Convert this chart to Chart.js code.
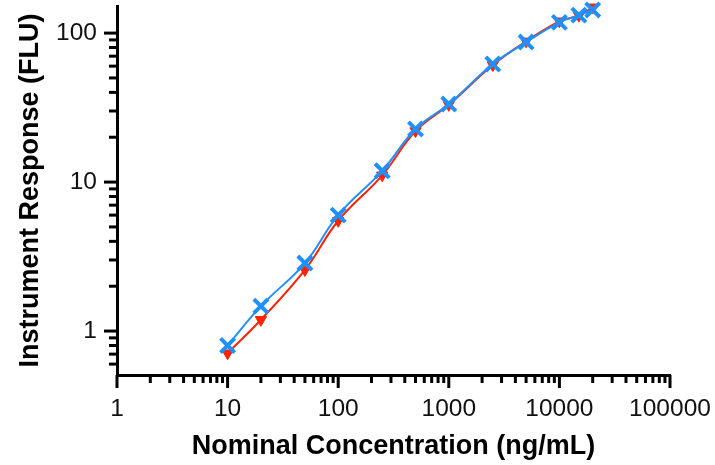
<!DOCTYPE html>
<html>
<head>
<meta charset="utf-8">
<script src="https://cdn.jsdelivr.net/npm/chart.js@4.4.1/dist/chart.umd.min.js"></script>
<style>
  html, body { margin: 0; padding: 0; background: #fff; }
</style>
</head>
<body>
<canvas id="chart" width="715" height="465"></canvas>
<script>
// --- data ---
const concentrations = [10, 20, 50, 100, 250, 500, 1000, 2500, 5000, 10000, 15000, 20000];
const blueResponse = [0.80, 1.47, 2.86, 6.0, 11.9, 22.7, 33.4, 62, 87, 118, 132, 143];
const redResponse = [0.71, 1.19, 2.57, 5.5, 11.1, 22.0, 33.0, 61, 88, 120, 131, 149];
const xMajorTicks = [1, 10, 100, 1000, 10000, 100000];
const yMajorTicks = [1, 10, 100];

const FONT = "'Liberation Sans', Arial, sans-serif";

function pts(ys) { return concentrations.map((c, i) => ({ x: c, y: ys[i] })); }

// every 1..9 x 10^k tick between min and max
function logTicks(min, max, majors) {
  const out = [];
  for (let e = -1; e <= 5; e++) {
    for (let m = 1; m <= 9; m++) {
      const v = +(m * Math.pow(10, e)).toPrecision(6);
      if (v >= min - 1e-9 && v <= max + 1e-9) out.push({ value: v, major: majors.includes(v) });
    }
  }
  return out;
}

function noPad(s) { s.paddingTop = 0; s.paddingBottom = 0; s.paddingLeft = 0; s.paddingRight = 0; }

// prism-style tick marks: long major, short minor
const tickMarks = {
  id: 'tickMarks',
  afterDraw(chart) {
    const { ctx, scales: { x, y } } = chart;
    ctx.save();
    ctx.strokeStyle = '#000';
    ctx.lineCap = 'butt';
    ctx.lineWidth = 3;
    x.ticks.forEach(t => {
      const px = x.getPixelForValue(t.value);
      ctx.beginPath(); ctx.moveTo(px, x.top); ctx.lineTo(px, x.top + (t.major ? 13 : 8)); ctx.stroke();
    });
    y.ticks.forEach(t => {
      const py = y.getPixelForValue(t.value);
      ctx.beginPath(); ctx.moveTo(y.right, py); ctx.lineTo(y.right - (t.major ? 13 : 8), py); ctx.stroke();
    });
    ctx.restore();
  }
};

new Chart(document.getElementById('chart'), {
  type: 'line',
  data: {
    datasets: [
      {
        label: 'blue',
        data: pts(blueResponse),
        borderColor: '#1E90FF',
        backgroundColor: '#1E90FF',
        borderWidth: 2,
        pointStyle: 'crossRot',
        pointRadius: 10,
        pointBorderWidth: 4,
        tension: 0.4,
        clip: false
      },
      {
        label: 'red',
        data: pts(redResponse),
        borderColor: '#FF2200',
        backgroundColor: '#FF2200',
        borderWidth: 2,
        pointStyle: 'triangle',
        rotation: 180,
        pointRadius: 6.5,
        pointBorderWidth: 1,
        tension: 0.4,
        clip: false
      }
    ]
  },
  options: {
    responsive: false,
    animation: false,
    devicePixelRatio: 1,
    layout: { autoPadding: false, padding: { top: 6, right: 45, left: 0, bottom: 0 } },
    plugins: { legend: { display: false }, tooltip: { enabled: false } },
    scales: {
      x: {
        type: 'logarithmic',
        min: 1,
        max: 100000,
        afterBuildTicks: s => { s.ticks = logTicks(1, 100000, xMajorTicks); },
        afterFit: s => { s.height = 90; noPad(s); },
        grid: { drawOnChartArea: false, drawTicks: false },
        border: { display: true, color: '#000', width: 3 },
        ticks: {
          autoSkip: false,
          maxRotation: 0,
          padding: 20,
          color: '#111',
          font: { family: FONT, size: 24.5 },
          callback: v => xMajorTicks.includes(v) ? String(v) : ''
        },
        title: {
          display: true,
          text: 'Nominal Concentration (ng/mL)',
          color: '#000',
          font: { family: FONT, size: 27, weight: 'bold' },
          padding: { top: 0, bottom: 2 }
        }
      },
      y: {
        type: 'logarithmic',
        min: 0.507,
        max: 152,
        afterBuildTicks: s => { s.ticks = logTicks(0.507, 152, yMajorTicks); },
        afterFit: s => { s.width = 117; noPad(s); },
        grid: { drawOnChartArea: false, drawTicks: false },
        border: { display: true, color: '#000', width: 3 },
        ticks: {
          autoSkip: false,
          padding: 20,
          color: '#111',
          font: { family: FONT, size: 24.5 },
          callback: v => yMajorTicks.includes(v) ? String(v) : ''
        },
        title: {
          display: true,
          text: 'Instrument Response (FLU)',
          color: '#000',
          font: { family: FONT, size: 27, weight: 'bold' },
          padding: { top: 14, bottom: 0 }
        }
      }
    }
  },
  plugins: [tickMarks]
});
</script>
</body>
</html>
